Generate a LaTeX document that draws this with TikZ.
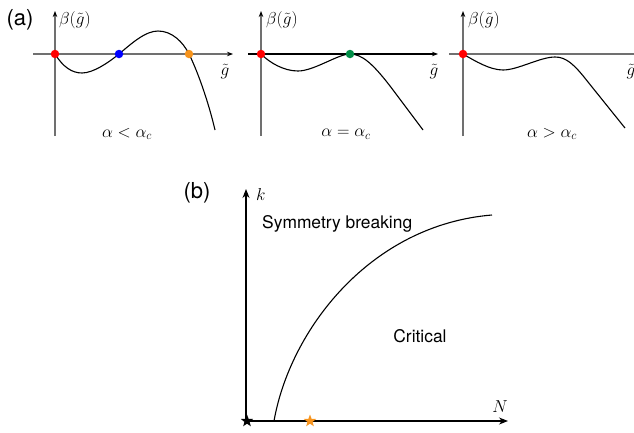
\documentclass[tikz,border=0pt]{standalone}
\usepackage[no-math]{fontspec}
\setmainfont{TeX Gyre Heros}
\usetikzlibrary{arrows.meta,shapes.geometric}
\definecolor{axgray}{RGB}{112,112,112}
\definecolor{dotred}{RGB}{255,0,0}
\definecolor{dotblue}{RGB}{0,0,255}
\definecolor{dotorange}{RGB}{247,148,29}
\definecolor{dotgreen}{RGB}{0,140,70}
\tikzset{
  axisg/.style={draw=axgray, line width=1.4pt},
  axisk/.style={draw=black, line width=1.1pt},
  smalltip/.style={-{Stealth[length=6pt,width=4.5pt,black]}},
  bigtip/.style={-{Stealth[length=9pt,width=7pt]}},
  curve/.style={line width=1.1pt},
  fixpt/.style={circle, inner sep=0pt, minimum size=8.5pt},
  lab/.style={font=\fontsize{17.28}{20}\selectfont, inner sep=0pt},
  tag/.style={font=\fontsize{22}{26}\selectfont, inner sep=0pt},
  region/.style={font=\fontsize{17.4}{20}\selectfont, inner sep=0pt},
  starmark/.style={star, star points=5, star point ratio=2.4, minimum size=13pt, inner sep=0pt}
}
\begin{document}
\begin{tikzpicture}[x=1pt,y=-1pt]
\useasboundingbox (0,0) rectangle (634,432);

% ---------- panel (a) ----------
\node[tag] (taga) at (20,20) {(a)};

% panel 1
\coordinate (h1s) at (33,54);
\coordinate (h1e) at (233,54);
\coordinate (v1b) at (55,136);
\coordinate (v1t) at (55,11);
\draw[axisg,smalltip] (h1s) -- (h1e);
\draw[axisg,smalltip] (v1b) -- (v1t);
\draw[curve] (55,54) .. controls (63,67) and (72,73) .. (82,73)
  .. controls (93,73) and (108,63) .. (119,54)
  .. controls (131,44) and (145,31) .. (158,31)
  .. controls (172,31) and (183,42) .. (189,54)
  .. controls (197,70) and (208,100) .. (215,130);
\node[fixpt,fill=dotred] (r1) at (55,54) {};
\node[fixpt,fill=dotblue] (b1) at (119,54) {};
\node[fixpt,fill=dotorange] (o1) at (189,54) {};
\node[lab,anchor=west] (beta1) at (59,20) {$\beta(\tilde g)$};
\node[lab] (g1) at (225,72) {$\tilde g$};
\node[lab] (al1) at (127,134) {$\alpha<\alpha_c$};

% panel 2
\coordinate (h2s) at (248,54);
\coordinate (h2e) at (438,54);
\coordinate (v2b) at (261,136);
\coordinate (v2t) at (261,11);
\draw[axisg,smalltip] (v2b) -- (v2t);
\draw[axisk,smalltip,line width=1.2pt] (h2s) -- (h2e);
\draw[curve] (261,54) .. controls (270,63) and (284,71) .. (298,71)
  .. controls (314,71) and (338,54) .. (350,54)
  .. controls (362,54) and (373,64) .. (390,86) -- (423,130);
\node[fixpt,fill=dotred] (r2) at (261,54) {};
\node[fixpt,fill=dotgreen] (g2p) at (350,54) {};
\node[lab,anchor=west] (beta2) at (266,20) {$\beta(\tilde g)$};
\node[lab] (g2) at (434,72) {$\tilde g$};
\node[lab] (al2) at (346,134) {$\alpha=\alpha_c$};

% panel 3
\coordinate (h3s) at (449,54);
\coordinate (h3e) at (642,54);
\coordinate (v3b) at (463,136);
\coordinate (v3t) at (463,11);
\draw[axisg] (h3s) -- (h3e);
\draw[axisg,smalltip] (v3b) -- (v3t);
\draw[curve] (463,54) .. controls (475,61) and (490,70) .. (503,70)
  .. controls (518,70) and (540,57) .. (555,57)
  .. controls (566,57) and (574,64) .. (588,82) -- (625,128);
\node[fixpt,fill=dotred] (r3) at (463,54) {};
\node[lab,anchor=west] (beta3) at (468,20) {$\beta(\tilde g)$};
\node[lab] (g3) at (631,72) {$\tilde g$};
\node[lab] (al3) at (552,134) {$\alpha>\alpha_c$};

% ---------- panel (b) ----------
\node[tag] (tagb) at (197,193) {(b)};
\coordinate (ob) at (246,421);
\coordinate (kt) at (246,189);
\coordinate (nt) at (508,421);
\draw[axisk,bigtip] (ob) -- (kt);
\draw[axisk,bigtip] (ob) -- (nt);
\node[lab,anchor=west] (klab) at (256,194) {$k$};
\node[lab] (nlab) at (500,407) {$N$};
\coordinate (cb0) at (274,421);
\coordinate (cb1) at (492,215);
\draw[curve] (cb0) .. controls (290,330) and (370,225) .. (cb1);
\node[region,anchor=west] (sym) at (262,224) {Symmetry breaking};
\node[region] (crit) at (420,336) {Critical};
\node[starmark,fill=black] (s0) at (247,421) {};
\node[starmark,fill=dotorange] (s1) at (310,421) {};
\end{tikzpicture}
\end{document}
